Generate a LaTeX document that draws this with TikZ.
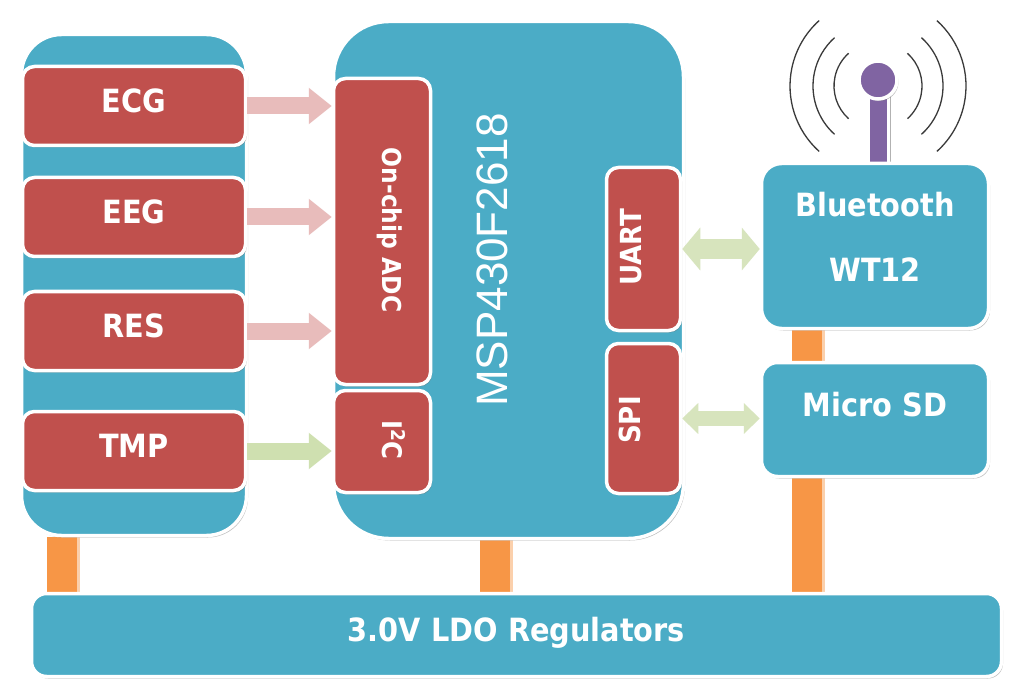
\documentclass[tikz,border=0pt]{standalone}
\usepackage{fontspec}
\setmainfont{DejaVu Sans}[FakeStretch=0.9]
\newfontfamily\mspfont{Liberation Sans}
\usetikzlibrary{arrows.meta,shadows,calc,backgrounds}
\definecolor{bblue}{HTML}{4BACC6}
\definecolor{rred}{HTML}{C0504D}
\definecolor{oorange}{HTML}{F79646}
\definecolor{ppurple}{HTML}{8064A2}
\definecolor{ppink}{HTML}{E8BCBB}
\definecolor{tgreen}{HTML}{CFE0B0}
\definecolor{dgreen}{HTML}{D7E4BD}
\definecolor{arcgray}{HTML}{3A3A3A}
\begin{document}
\begin{tikzpicture}[x=1pt,y=-1pt,
  sh/.style={drop shadow={shadow xshift=1.5pt,shadow yshift=-2pt,opacity=0.45,fill=black!55}},
  panel/.style={sh,draw=white,line width=3.5pt,fill=bblue,inner sep=0pt},
  redbox/.style={sh,draw=white,line width=3.5pt,fill=rred,rounded corners=12pt,inner sep=0pt},
  lbl/.style={text=white,font=\bfseries\fontsize{32}{38}\selectfont,text height=23pt,text depth=10pt,inner sep=0pt},
  rlbl/.style={text=white,inner sep=0pt},
  pbar/.style={draw=oorange,line width=30pt,preaction={draw=oorange!45!white,line width=30pt,transform canvas={xshift=3pt}}},
  sarrow/.style={line width=17pt,-{Triangle[length=23pt,width=35pt]}},
  dbig/.style={dgreen,line width=20pt,{Triangle[length=18pt,width=42pt]}-{Triangle[length=18pt,width=42pt]}},
  dsmall/.style={dgreen,line width=15pt,{Triangle[length=16pt,width=30pt]}-{Triangle[length=16pt,width=30pt]}},
  arcs/.style={draw=arcgray,line width=1.3pt}
]
\useasboundingbox (0,0) rectangle (1024,700);

% sensor panel and sensors
\node[panel,rounded corners=40pt,minimum width=225pt,minimum height=501pt] (sens) at (134,285) {};
\node[redbox,minimum width=223pt,minimum height=79pt,lbl] (ecg) at (134,106) {ECG};
\node[redbox,minimum width=223pt,minimum height=79pt,lbl] (eeg) at (134,217) {EEG};
\node[redbox,minimum width=223pt,minimum height=79pt,lbl] (res) at (134,331) {RES};
\node[redbox,minimum width=223pt,minimum height=79pt,lbl] (tmp) at (134,451) {TMP};

% MCU
\node[panel,rounded corners=55pt,minimum width=350pt,minimum height=517pt] (mcu) at (508.5,280) {};
\node[rlbl,rotate=90,font=\mspfont\fontsize{44}{50}\selectfont] (msptxt) at (492.5,260) {MSP430F2618};
\node[redbox,minimum width=97pt,minimum height=306pt] (adc) at (382,231.5) {};
\node[rlbl,rotate=-90,font=\bfseries\fontsize{26}{30}\selectfont] (adctxt) at (390,230) {On-chip ADC};
\node[redbox,minimum width=97pt,minimum height=102pt] (i2c) at (382,441.5) {};
\node[rlbl,rotate=-90,font=\bfseries\fontsize{27}{30}\selectfont] (i2ctxt) at (394,440) {I\textsuperscript{2}C};
\node[redbox,minimum width=74pt,minimum height=163pt] (uart) at (643.5,249) {};
\node[rlbl,rotate=90,font=\bfseries\fontsize{29}{32}\selectfont] (uarttxt) at (631,247) {UART};
\node[redbox,minimum width=74pt,minimum height=150pt] (spi) at (643.5,418.5) {};
\node[rlbl,rotate=90,font=\bfseries\fontsize{29}{32}\selectfont] (spitxt) at (630,420) {SPI};

% peripherals
\node[panel,rounded corners=20pt,minimum width=227pt,minimum height=165pt] (bt) at (875,246) {};
\node[lbl] (bttxt1) at ($(bt.center)+(0,-36)$) {Bluetooth};
\node[lbl] (bttxt2) at ($(bt.center)+(0,29)$) {WT12};
\node[panel,rounded corners=16pt,minimum width=227pt,minimum height=114pt] (sd) at (875,419.5) {};
\node[lbl] (sdtxt) at ($(sd.center)+(0,-10)$) {Micro SD};

% regulator
\node[panel,rounded corners=15pt,minimum width=970pt,minimum height=83pt,lbl] (reg) at (516.5,635) {3.0V LDO Regulators};

% antenna
\node[sh,circle,fill=ppurple,draw=white,line width=3.5pt,minimum size=38pt,inner sep=0pt] (ant) at (878,80) {};
\foreach \r in {44,65,88} {
  \draw[arcs] ($(ant.center)+(0,6)+(132:\r)$) arc[start angle=132,end angle=228,radius=\r];
  \draw[arcs] ($(ant.center)+(0,6)+(-48:\r)$) arc[start angle=-48,end angle=48,radius=\r];
}

% arrows
\draw[sarrow,ppink] (ecg.east) -- (ecg.east -| adc.west);
\draw[sarrow,ppink] (eeg.east) -- (eeg.east -| adc.west);
\draw[sarrow,ppink] (res.east) -- (res.east -| adc.west);
\draw[sarrow,tgreen] (tmp.east) -- (tmp.east -| i2c.west);
\draw[dbig] (uart.east) -- (uart.east -| bt.west);
\draw[dsmall] (spi.east) -- (spi.east -| sd.west);

% background: bars and stem
\begin{pgfonlayer}{background}
  \fill[white] (0,0) rectangle (1024,700);
  \coordinate (lbx) at (62,0);
  \coordinate (mbx) at (495,0);
  \coordinate (rbx) at (807,0);
  \draw[pbar] (lbx |- sens.south) -- (lbx |- reg.north);
  \draw[pbar] (mbx |- mcu.south) -- (mbx |- reg.north);
  \draw[pbar] (rbx |- bt.south) -- (rbx |- reg.north);
  \draw[black!30,line width=24pt,transform canvas={xshift=1pt}] (ant.center) -- (ant.center |- bt.north);
  \draw[white,line width=23pt] (ant.center) -- (ant.center |- bt.north);
  \draw[ppurple,line width=17pt] (ant.center) -- (ant.center |- bt.north);
\end{pgfonlayer}
\end{tikzpicture}
\end{document}
